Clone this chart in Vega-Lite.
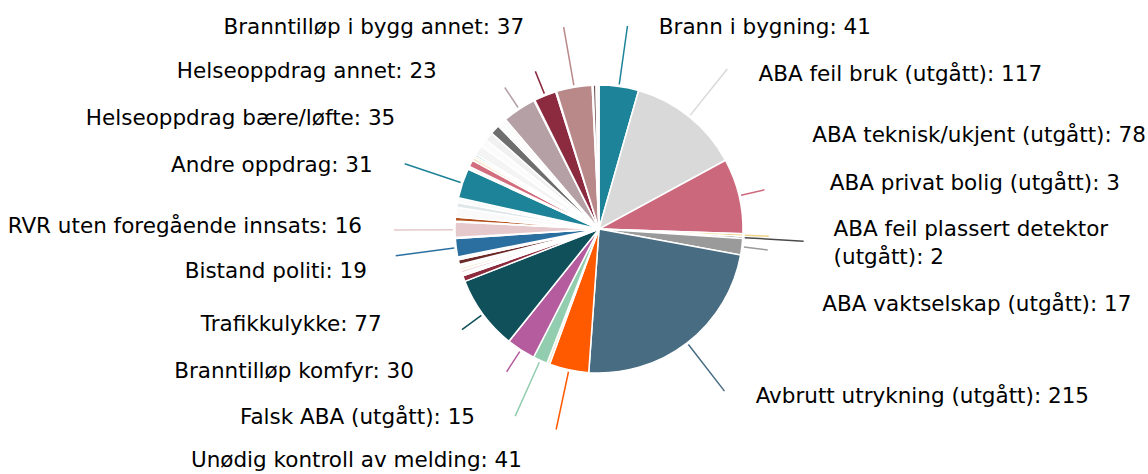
{
  "$schema": "https://vega.github.io/schema/vega-lite/v6.json",
  "autosize": {"type": "none"},
  "width": 1098,
  "height": 458,
  "padding": {"left": 50, "right": 0, "top": 0, "bottom": 16},
  "background": "#ffffff",
  "config": {"view": {"stroke": null}},
  "data": {"values": [
    {"i": 1, "cat": "Brann i bygning", "v": 41, "label": "Brann i bygning: 41"},
    {"i": 2, "cat": "ABA feil bruk (utgått)", "v": 117, "label": "ABA feil bruk (utgått): 117"},
    {"i": 3, "cat": "ABA teknisk/ukjent (utgått)", "v": 78, "label": "ABA teknisk/ukjent (utgått): 78"},
    {"i": 4, "cat": "ABA privat bolig (utgått)", "v": 3, "label": "ABA privat bolig (utgått): 3"},
    {"i": 5, "cat": "ABA feil plassert detektor (utgått)", "v": 2, "label": "ABA feil plassert detektor\n(utgått): 2"},
    {"i": 6, "cat": "ABA vaktselskap (utgått)", "v": 17, "label": "ABA vaktselskap (utgått): 17"},
    {"i": 7, "cat": "Avbrutt utrykning (utgått)", "v": 215, "label": "Avbrutt utrykning (utgått): 215"},
    {"i": 8, "cat": "Unødig kontroll av melding", "v": 41, "label": "Unødig kontroll av melding: 41"},
    {"i": 9, "cat": "x09", "v": 3},
    {"i": 10, "cat": "Falsk ABA (utgått)", "v": 15, "label": "Falsk ABA (utgått): 15"},
    {"i": 11, "cat": "Branntilløp komfyr", "v": 30, "label": "Branntilløp komfyr: 30"},
    {"i": 12, "cat": "Trafikkulykke", "v": 77, "label": "Trafikkulykke: 77"},
    {"i": 13, "cat": "x13", "v": 6},
    {"i": 14, "cat": "x14", "v": 3},
    {"i": 15, "cat": "x15", "v": 3},
    {"i": 16, "cat": "x16", "v": 3},
    {"i": 17, "cat": "x17", "v": 3},
    {"i": 18, "cat": "x18", "v": 5},
    {"i": 19, "cat": "x19", "v": 3},
    {"i": 20, "cat": "Bistand politi", "v": 19, "label": "Bistand politi: 19"},
    {"i": 21, "cat": "x21", "v": 1},
    {"i": 22, "cat": "RVR uten foregående innsats", "v": 16, "label": "RVR uten foregående innsats: 16"},
    {"i": 23, "cat": "x23", "v": 1},
    {"i": 24, "cat": "x24", "v": 4},
    {"i": 25, "cat": "x25", "v": 10},
    {"i": 26, "cat": "x26", "v": 5},
    {"i": 27, "cat": "x27", "v": 5},
    {"i": 28, "cat": "Andre oppdrag", "v": 31, "label": "Andre oppdrag: 31"},
    {"i": 29, "cat": "x29", "v": 3},
    {"i": 30, "cat": "x30", "v": 7},
    {"i": 31, "cat": "x31", "v": 3},
    {"i": 32, "cat": "x32", "v": 2},
    {"i": 33, "cat": "x33", "v": 2},
    {"i": 34, "cat": "x34", "v": 10},
    {"i": 35, "cat": "x35", "v": 8},
    {"i": 36, "cat": "x36", "v": 9},
    {"i": 37, "cat": "x37", "v": 10},
    {"i": 38, "cat": "x38", "v": 3},
    {"i": 39, "cat": "x39", "v": 2},
    {"i": 40, "cat": "x40", "v": 5},
    {"i": 41, "cat": "Helseoppdrag bære/løfte", "v": 35, "label": "Helseoppdrag bære/løfte: 35"},
    {"i": 42, "cat": "x42", "v": 1},
    {"i": 43, "cat": "Helseoppdrag annet", "v": 23, "label": "Helseoppdrag annet: 23"},
    {"i": 44, "cat": "x44", "v": 1},
    {"i": 45, "cat": "Branntilløp i bygg annet", "v": 37, "label": "Branntilløp i bygg annet: 37"},
    {"i": 46, "cat": "x46", "v": 1},
    {"i": 47, "cat": "x47", "v": 3},
    {"i": 48, "cat": "x48", "v": 3}
  ]},
  "encoding": {
    "theta": {"field": "v", "type": "quantitative", "stack": true},
    "order": {"field": "i", "type": "quantitative", "sort": "ascending"},
    "detail": {"field": "cat", "type": "nominal"},
    "color": {
      "field": "cat", "type": "nominal", "legend": null,
      "scale": {
        "domain": ["Brann i bygning", "ABA feil bruk (utgått)", "ABA teknisk/ukjent (utgått)", "ABA privat bolig (utgått)", "ABA feil plassert detektor (utgått)", "ABA vaktselskap (utgått)", "Avbrutt utrykning (utgått)", "Unødig kontroll av melding", "x09", "Falsk ABA (utgått)", "Branntilløp komfyr", "Trafikkulykke", "x13", "x14", "x15", "x16", "x17", "x18", "x19", "Bistand politi", "x21", "RVR uten foregående innsats", "x23", "x24", "x25", "x26", "x27", "Andre oppdrag", "x29", "x30", "x31", "x32", "x33", "x34", "x35", "x36", "x37", "x38", "x39", "x40", "Helseoppdrag bære/løfte", "x42", "Helseoppdrag annet", "x44", "Branntilløp i bygg annet", "x46", "x47", "x48"],
        "range": ["#1d8398", "#d9d9d9", "#cc687b", "#f0d48a", "#4a4a4a", "#9a9a9a", "#486c82", "#ff5a00", "#efe6d0", "#93cdb0", "#b55c9f", "#10505b", "#8c2b3e", "#fafafa", "#ecd6d6", "#f7ecdc", "#fafafa", "#6b2a28", "#fafafa", "#2b6fa0", "#fafafa", "#e5c9cc", "#fafafa", "#b4511c", "#fafafa", "#dfe7e9", "#fafafa", "#1d8398", "#fafafa", "#d36d7e", "#f6e3c0", "#e9d08e", "#3f9c98", "#f4f4f4", "#fbfbfb", "#f1f1f1", "#6e6e6e", "#fafafa", "#cde6df", "#fafafa", "#b5a1a5", "#fafafa", "#8c2a40", "#fafafa", "#b98889", "#fafafa", "#6e4b4d", "#fafafa"]
      }
    }
  },
  "layer": [
    {
      "mark": {"type": "arc", "outerRadius": 144, "stroke": "#ffffff", "strokeWidth": 1.5}
    },
    {
      "mark": {"type": "arc", "innerRadius": 146, "outerRadius": 205, "padAngle": 3.14, "filled": false, "strokeWidth": 1.5},
      "encoding": {"strokeOpacity": {"condition": {"test": "datum.i === 1 || datum.i === 2 || datum.i === 5 || datum.i === 7 || datum.i === 8 || datum.i === 10 || datum.i === 20 || datum.i === 22 || datum.i === 28 || datum.i === 45", "value": 1}, "value": 0}}
    },
    {
      "mark": {"type": "arc", "innerRadius": 146, "outerRadius": 170, "padAngle": 3.14, "filled": false, "strokeWidth": 1.5},
      "encoding": {"strokeOpacity": {"condition": {"test": "datum.i === 3 || datum.i === 4 || datum.i === 6 || datum.i === 11 || datum.i === 12 || datum.i === 41 || datum.i === 43", "value": 1}, "value": 0}}
    },
    {"mark": {"type": "text", "radius": 215, "align": "left", "baseline": "middle", "dx": 30, "dy": 12, "font": "DejaVu Sans", "fontSize": 21.5},
     "encoding": {"color": {"value": "#000000"}, "text": {"condition": {"test": "datum.i === 1", "field": "label", "type": "nominal"}, "value": ""}}},
    {"mark": {"type": "text", "radius": 215, "align": "left", "baseline": "middle", "dx": 25, "dy": 14, "font": "DejaVu Sans", "fontSize": 21.5},
     "encoding": {"color": {"value": "#000000"}, "text": {"condition": {"test": "datum.i === 2", "field": "label", "type": "nominal"}, "value": ""}}},
    {"mark": {"type": "text", "radius": 215, "align": "left", "baseline": "middle", "dx": 4, "dy": -43, "font": "DejaVu Sans", "fontSize": 21.5},
     "encoding": {"color": {"value": "#000000"}, "text": {"condition": {"test": "datum.i === 3", "field": "label", "type": "nominal"}, "value": ""}}},
    {"mark": {"type": "text", "radius": 215, "align": "left", "baseline": "middle", "dx": 16, "dy": -54, "font": "DejaVu Sans", "fontSize": 21.5},
     "encoding": {"color": {"value": "#000000"}, "text": {"condition": {"test": "datum.i === 4", "field": "label", "type": "nominal"}, "value": ""}}},
    {"mark": {"type": "text", "radius": 215, "align": "left", "baseline": "middle", "dx": 20, "dy": -12, "lineBreak": "\n", "lineHeight": 28.3, "font": "DejaVu Sans", "fontSize": 21.5},
     "encoding": {"color": {"value": "#000000"}, "text": {"condition": {"test": "datum.i === 5", "field": "label", "type": "nominal"}, "value": ""}}},
    {"mark": {"type": "text", "radius": 215, "align": "left", "baseline": "middle", "dx": 10, "dy": 49, "font": "DejaVu Sans", "fontSize": 21.5},
     "encoding": {"color": {"value": "#000000"}, "text": {"condition": {"test": "datum.i === 6", "field": "label", "type": "nominal"}, "value": ""}}},
    {"mark": {"type": "text", "radius": 215, "align": "left", "baseline": "middle", "dx": 25, "dy": -2, "font": "DejaVu Sans", "fontSize": 21.5},
     "encoding": {"color": {"value": "#000000"}, "text": {"condition": {"test": "datum.i === 7", "field": "label", "type": "nominal"}, "value": ""}}},
    {"mark": {"type": "text", "radius": 225, "align": "right", "baseline": "middle", "dx": -30, "dy": 12, "font": "DejaVu Sans", "fontSize": 21.5},
     "encoding": {"color": {"value": "#000000"}, "text": {"condition": {"test": "datum.i === 8", "field": "label", "type": "nominal"}, "value": ""}}},
    {"mark": {"type": "text", "radius": 225, "align": "right", "baseline": "middle", "dx": -32, "dy": -16, "font": "DejaVu Sans", "fontSize": 21.5},
     "encoding": {"color": {"value": "#000000"}, "text": {"condition": {"test": "datum.i === 10", "field": "label", "type": "nominal"}, "value": ""}}},
    {"mark": {"type": "text", "radius": 225, "align": "right", "baseline": "middle", "dx": -63, "dy": -46, "font": "DejaVu Sans", "fontSize": 21.5},
     "encoding": {"color": {"value": "#000000"}, "text": {"condition": {"test": "datum.i === 11", "field": "label", "type": "nominal"}, "value": ""}}},
    {"mark": {"type": "text", "radius": 225, "align": "right", "baseline": "middle", "dx": -36, "dy": -37, "font": "DejaVu Sans", "fontSize": 21.5},
     "encoding": {"color": {"value": "#000000"}, "text": {"condition": {"test": "datum.i === 12", "field": "label", "type": "nominal"}, "value": ""}}},
    {"mark": {"type": "text", "radius": 225, "align": "right", "baseline": "middle", "dx": -9, "dy": 14, "font": "DejaVu Sans", "fontSize": 21.5},
     "encoding": {"color": {"value": "#000000"}, "text": {"condition": {"test": "datum.i === 20", "field": "label", "type": "nominal"}, "value": ""}}},
    {"mark": {"type": "text", "radius": 225, "align": "right", "baseline": "middle", "dx": -12, "dy": -3, "font": "DejaVu Sans", "fontSize": 21.5},
     "encoding": {"color": {"value": "#000000"}, "text": {"condition": {"test": "datum.i === 22", "field": "label", "type": "nominal"}, "value": ""}}},
    {"mark": {"type": "text", "radius": 225, "align": "right", "baseline": "middle", "dx": -13, "dy": 9, "font": "DejaVu Sans", "fontSize": 21.5},
     "encoding": {"color": {"value": "#000000"}, "text": {"condition": {"test": "datum.i === 28", "field": "label", "type": "nominal"}, "value": ""}}},
    {"mark": {"type": "text", "radius": 225, "align": "right", "baseline": "middle", "dx": -79, "dy": 77, "font": "DejaVu Sans", "fontSize": 21.5},
     "encoding": {"color": {"value": "#000000"}, "text": {"condition": {"test": "datum.i === 41", "field": "label", "type": "nominal"}, "value": ""}}},
    {"mark": {"type": "text", "radius": 225, "align": "right", "baseline": "middle", "dx": -78, "dy": 52, "font": "DejaVu Sans", "fontSize": 21.5},
     "encoding": {"color": {"value": "#000000"}, "text": {"condition": {"test": "datum.i === 43", "field": "label", "type": "nominal"}, "value": ""}}},
    {"mark": {"type": "text", "radius": 225, "align": "right", "baseline": "middle", "dx": -36, "dy": 21, "font": "DejaVu Sans", "fontSize": 21.5},
     "encoding": {"color": {"value": "#000000"}, "text": {"condition": {"test": "datum.i === 45", "field": "label", "type": "nominal"}, "value": ""}}}
  ]
}
